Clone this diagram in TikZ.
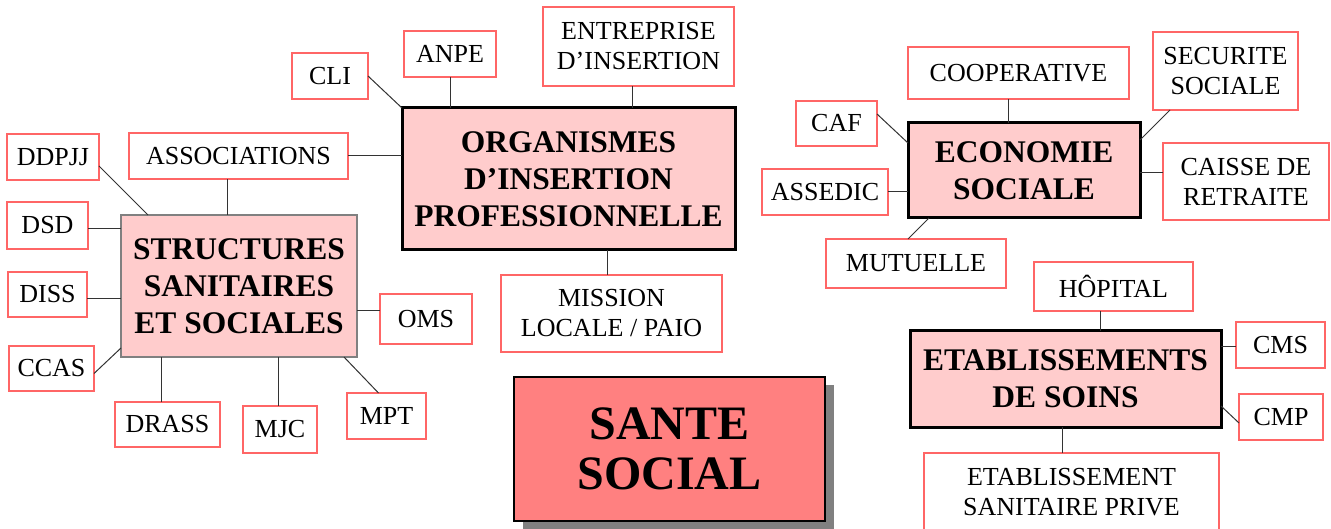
\documentclass[tikz,border=0pt]{standalone}
\usepackage{fontspec}
\setmainfont{Liberation Serif}
\usetikzlibrary{shadows}
\definecolor{boxred}{RGB}{255,102,102}
\definecolor{pinkfill}{RGB}{255,204,204}
\definecolor{santefill}{RGB}{255,128,128}
\tikzset{
  leaf/.style={draw=boxred, line width=1.3pt, fill=white, inner sep=0pt, outer sep=0pt, align=center, font=\fontsize{26}{30}\selectfont},
  hub/.style={draw=black, line width=3pt, fill=pinkfill, inner sep=0pt, outer sep=0pt, align=center, font=\bfseries\fontsize{31.5}{37}\selectfont},
  link/.style={draw=black!80, line width=1pt},
}
\begin{document}
\begin{tikzpicture}[x=1pt,y=-1pt]
\useasboundingbox (0,0) rectangle (1331,529);
% hubs
\node[hub, minimum width=333pt, minimum height=142pt] (org) at (568.5,179) {ORGANISMES\\D’INSERTION\\PROFESSIONNELLE};
\node[hub, draw=black!50, line width=1.5pt, minimum width=236pt, minimum height=142pt] (str) at (239,286) {STRUCTURES\\SANITAIRES\\ET SOCIALES};
\node[hub, minimum width=232pt, minimum height=95pt] (eco) at (1024,170.5) {ECONOMIE\\SOCIALE};
\node[hub, minimum width=311pt, minimum height=96pt] (etab) at (1065.5,379) {ETABLISSEMENTS\\DE SOINS};
\node[draw=black, line width=2pt, fill=santefill, minimum width=311pt, minimum height=144pt, inner sep=0pt, outer sep=0pt, align=center,
  font=\bfseries\fontsize{48}{50}\selectfont,
  drop shadow={shadow xshift=9pt, shadow yshift=-8pt, fill=black!50, opacity=1}] (sante) at (669.5,449) {SANTE\\SOCIAL};
% leaves
\node[leaf, minimum width=76pt, minimum height=46pt] (cli) at (330,76) {CLI};
\node[leaf, minimum width=92pt, minimum height=46pt] (anpe) at (450,54) {ANPE};
\node[leaf, minimum width=191pt, minimum height=79pt] (ent) at (638.5,46.5) {ENTREPRISE\\D’INSERTION};
\node[leaf, minimum width=219pt, minimum height=46pt] (assoc) at (238.5,156) {ASSOCIATIONS};
\node[leaf, minimum width=221pt, minimum height=77pt] (mission) at (611.5,313.5) {MISSION\\LOCALE / PAIO};
\node[leaf, minimum width=92pt, minimum height=46pt] (ddpjj) at (53,157) {DDPJJ};
\node[leaf, minimum width=81pt, minimum height=47pt] (dsd) at (47.5,225.5) {DSD};
\node[leaf, minimum width=79pt, minimum height=45pt] (diss) at (47.5,294.5) {DISS};
\node[leaf, minimum width=85pt, minimum height=45pt] (ccas) at (51.5,368.5) {CCAS};
\node[leaf, minimum width=105pt, minimum height=45pt] (drass) at (167.5,424.5) {DRASS};
\node[leaf, minimum width=74pt, minimum height=47pt] (mjc) at (280,429.5) {MJC};
\node[leaf, minimum width=79pt, minimum height=46pt] (mpt) at (386.5,416) {MPT};
\node[leaf, minimum width=92pt, minimum height=50pt] (oms) at (426,319) {OMS};
\node[leaf, minimum width=221pt, minimum height=52pt] (coop) at (1018.5,73) {COOPERATIVE};
\node[leaf, minimum width=81pt, minimum height=45pt] (caf) at (836.5,123.5) {CAF};
\node[leaf, minimum width=126pt, minimum height=46pt] (assedic) at (825,192) {ASSEDIC};
\node[leaf, minimum width=180pt, minimum height=49pt] (mut) at (916,263.5) {MUTUELLE};
\node[leaf, minimum width=145pt, minimum height=78pt] (sec) at (1225.5,71) {SECURITE\\SOCIALE};
\node[leaf, minimum width=166pt, minimum height=77pt] (caisse) at (1246,181.5) {CAISSE DE\\RETRAITE};
\node[leaf, minimum width=159pt, minimum height=49pt] (hop) at (1113.5,286.5) {HÔPITAL};
\node[leaf, minimum width=89pt, minimum height=46pt] (cms) at (1280.5,345) {CMS};
\node[leaf, minimum width=84pt, minimum height=46pt] (cmp) at (1281,417) {CMP};
\node[leaf, minimum width=295pt, minimum height=78pt] (esp) at (1071.5,492) {ETABLISSEMENT\\SANITAIRE PRIVE};
% connectors: organismes
\draw[link] (cli.east) -- (org.north west);
\draw[link] (anpe.south) -- (anpe.south |- org.north);
\draw[link] ([xshift=-6pt]ent.south) -- ([xshift=-6pt]ent.south |- org.north);
\draw[link] (assoc.east) -- (assoc.east -| org.west);
\draw[link] ([xshift=-4pt]mission.north) -- ([xshift=-4pt]mission.north |- org.south);
% structures
\draw[link] ([xshift=-11pt]assoc.south) -- ([xshift=-11pt]assoc.south |- str.north);
\draw[link] ([yshift=-9pt]ddpjj.east) -- ([xshift=27pt]str.north west);
\draw[link] ([yshift=-3pt]dsd.east) -- ([yshift=-3pt]dsd.east -| str.west);
\draw[link] ([yshift=-4.5pt]diss.east) -- ([yshift=-4.5pt]diss.east -| str.west);
\draw[link] ([yshift=-5pt]ccas.east) -- ([yshift=9pt]str.south west);
\draw[link] ([xshift=-6.5pt]drass.north) -- ([xshift=-6.5pt]drass.north |- str.south);
\draw[link] ([xshift=-2pt]mjc.north) -- ([xshift=-2pt]mjc.north |- str.south);
\draw[link] ([xshift=-8pt]mpt.north) -- ([xshift=-13pt]str.south east);
\draw[link] ([yshift=8pt]oms.west) -- ([yshift=8pt]oms.west -| str.east);
% economie
\draw[link] ([yshift=9.5pt]caf.east) -- ([yshift=-20pt]eco.north west);
\draw[link] ([xshift=-10.5pt]coop.south) -- ([xshift=-10.5pt]coop.south |- eco.north);
\draw[link] ([xshift=-55.5pt]sec.south) -- ([yshift=-17pt]eco.north east);
\draw[link] ([yshift=8.5pt]caisse.west) -- ([yshift=8.5pt]caisse.west -| eco.east);
\draw[link] (assedic.east) -- (assedic.east -| eco.west);
\draw[link] ([xshift=-8pt]mut.north) -- ([xshift=21pt]eco.south west);
% etablissements
\draw[link] ([xshift=-13.5pt]hop.south) -- ([xshift=-13.5pt]hop.south |- etab.north);
\draw[link] ([yshift=-2pt]cms.west) -- ([yshift=-2pt]cms.west -| etab.east);
\draw[link] ([yshift=-6pt]cmp.west) -- ([yshift=-27pt]etab.east);
\draw[link] ([xshift=-9.5pt]esp.north) -- ([xshift=-9.5pt]esp.north |- etab.south);
\end{tikzpicture}
\end{document}
